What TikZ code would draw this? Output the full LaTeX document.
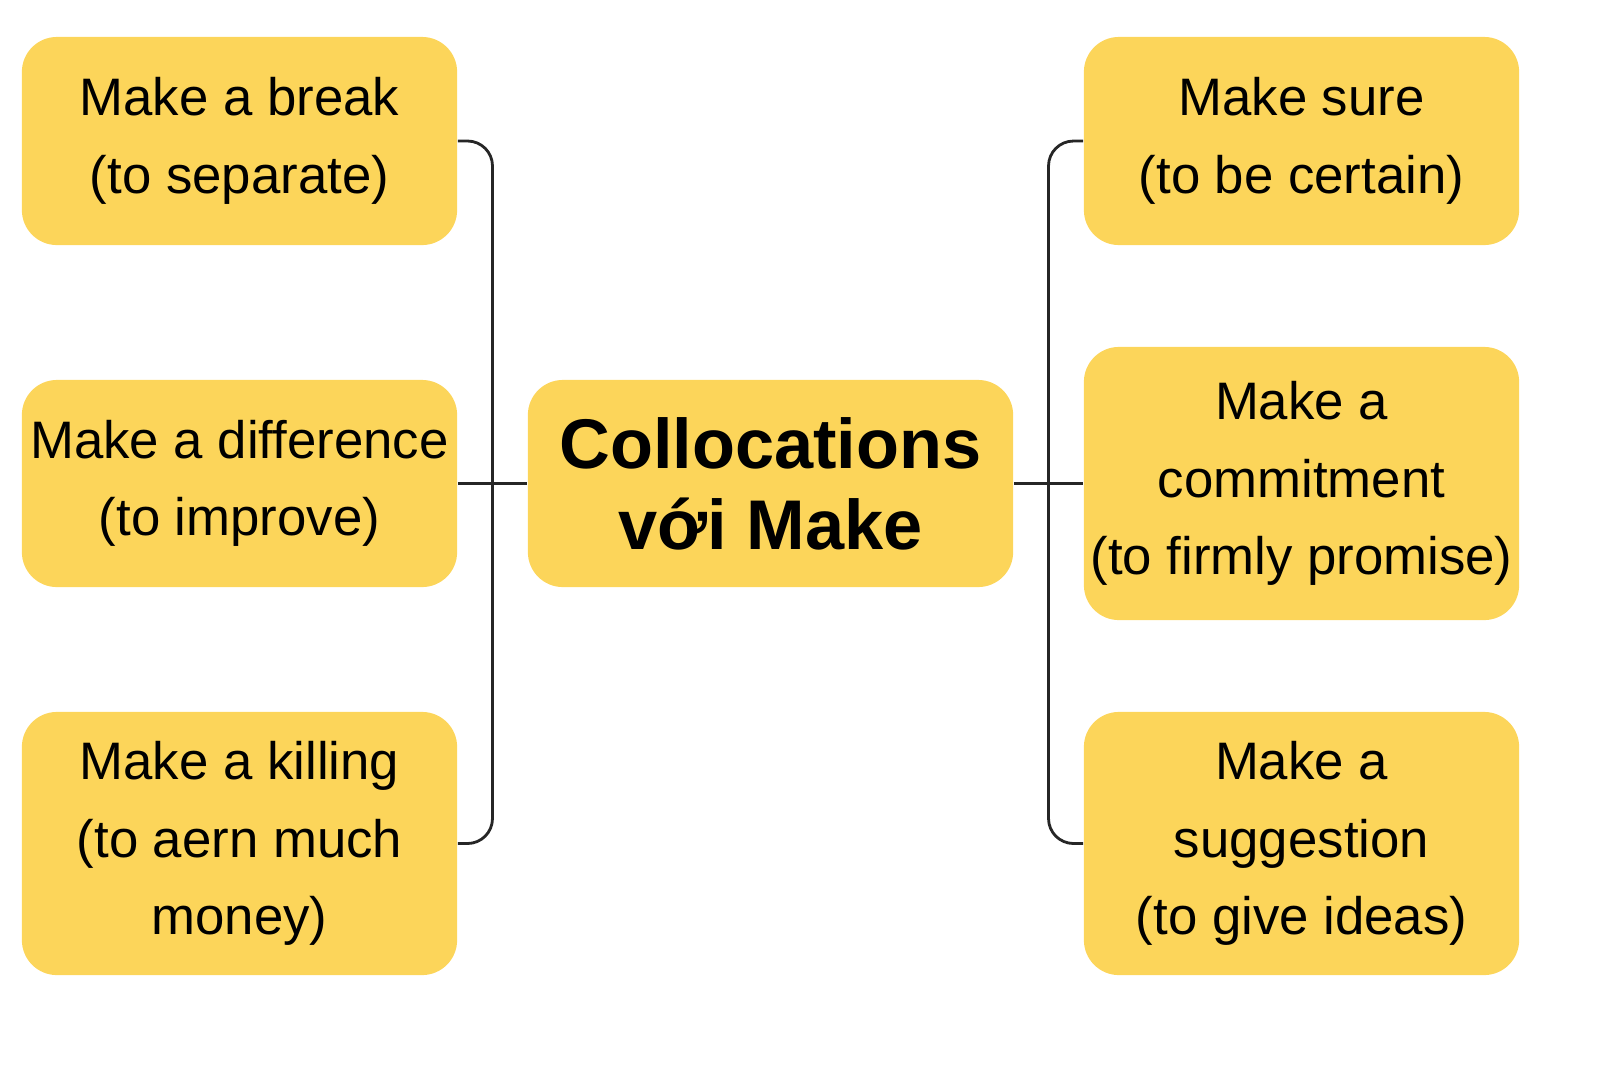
\documentclass[tikz,border=0pt]{standalone}
\usepackage{fontspec}
\setmainfont{Liberation Sans}
\usetikzlibrary{positioning, calc}
\definecolor{boxyellow}{HTML}{FCD55A}
\tikzset{
	item/.style={fill=boxyellow, rounded corners=0.35cm, minimum width=4.35cm, align=center,
		font=\fontsize{15}{22}\selectfont, inner sep=0pt},
	link/.style={draw=black!85, line width=0.8pt, rounded corners=0.25cm}
}
\begin{document}
\begin{tikzpicture}[x=0.01cm, y=-0.01cm]
		
		\useasboundingbox (0,0) rectangle (1600,1066);
		% centre
		\node[item, minimum width=4.85cm, minimum height=2.07cm, font=\fontsize{20}{23}\selectfont\bfseries] (ctr) at (770.5,483.5) {Collocations\\với Make};
		% left column
		\node[item, minimum height=2.08cm] (b1) at (239.5,141) {Make a break\\(to separate)};
		\node[item, minimum height=2.07cm] (b2) at (239.5,483.5) {Make a difference\\(to improve)};
		\node[item, minimum height=2.63cm] (b3) at (239.5,843.5) {Make a killing\\(to aern much\\money)};
		% right column
		\node[item, minimum height=2.08cm] (r1) at (1301.5,141) {Make sure\\(to be certain)};
		\node[item, minimum height=2.73cm] (r2) at (1301.5,483.5) {Make a\\commitment\\(to firmly promise)};
		\node[item, minimum height=2.63cm] (r3) at (1301.5,843.5) {Make a\\suggestion\\(to give ideas)};
		% connectors
		\draw[link] (b1.east) -| ($(b1.east)!.5!(ctr.west)$) |- (b3.east);
		\draw[link] (b2.east) -- (ctr.west);
		\draw[link] (r1.west) -| ($(r1.west)!.5!(ctr.east)$) |- (r3.west);
		\draw[link] (ctr.east) -- (r2.west);
		
\end{tikzpicture}
\end{document}
